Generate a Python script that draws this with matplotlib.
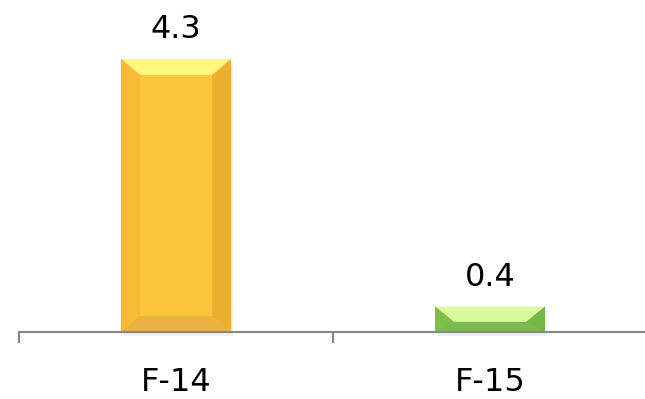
import matplotlib.pyplot as plt
from matplotlib.patches import Polygon, Rectangle

categories = ['F-14', 'F-15']
values = [4.3, 0.4]

# face colours for each bar: centre, top, left, right, bottom
bar_faces = [
    dict(centre='#FDC63A', top='#FFF780', left='#F8B934', right='#EEAF31', bottom='#EAB143'),
    dict(centre='#7DBE4E', top='#D9FB9C', left='#7CC04A', right='#74B648', bottom='#7DB953'),
]

fig = plt.figure(figsize=(6.45, 3.99), dpi=100)
ax = fig.add_axes([19 / 645, 67 / 399, 628 / 645, 332 / 399])
ax.set_xlim(-0.5, 1.5)
ax.set_ylim(0, 332 / 63.5)

width = 0.35
dx = 0.06     # side bevel, data units
for i, (v, faces) in enumerate(zip(values, bar_faces)):
    x0, x1 = i - width / 2, i + width / 2
    y0, y1 = 0, v
    dyt = min(0.25, v * 0.6)
    dyb = min(0.25, v - dyt)
    # soft drop shadow
    ax.add_patch(Rectangle((x0 + 0.008, -0.06), width, v, facecolor='#000000',
                           alpha=0.06, edgecolor='none', zorder=1, clip_on=False))
    ax.add_patch(Rectangle((x0, y0), width, v, facecolor=faces['centre'],
                           edgecolor='none', zorder=2))
    ox = [(x0, y0), (x1, y0), (x1, y1), (x0, y1)]
    ix = [(x0 + dx, y0 + dyb), (x1 - dx, y0 + dyb), (x1 - dx, y1 - dyt), (x0 + dx, y1 - dyt)]
    polys = {
        'bottom': [ox[0], ox[1], ix[1], ix[0]],
        'right': [ox[1], ox[2], ix[2], ix[1]],
        'top': [ox[2], ox[3], ix[3], ix[2]],
        'left': [ox[3], ox[0], ix[0], ix[3]],
    }
    for side, pts in polys.items():
        ax.add_patch(Polygon(pts, closed=True, facecolor=faces[side],
                             edgecolor='none', zorder=3))
    ax.annotate(f'{v}', xy=(i, v), xytext=(0, 21), textcoords='offset pixels',
                ha='center', va='baseline', fontsize=23, color='#000000')

for side in ['left', 'right', 'top']:
    ax.spines[side].set_visible(False)
ax.spines['bottom'].set_color('#868686')
ax.spines['bottom'].set_linewidth(1.5)
ax.spines['bottom'].set_zorder(4)

ax.set_yticks([])
ax.set_xticks([-0.5, 0.5, 1.5])
ax.set_xticklabels([])
ax.tick_params(axis='x', length=8, width=1.5, color='#868686')
ax.set_xticks(range(len(categories)), minor=True)
ax.set_xticklabels(categories, minor=True)
ax.tick_params(axis='x', which='minor', length=0, pad=25, labelsize=23)

fig.savefig('out.png', dpi=100)
